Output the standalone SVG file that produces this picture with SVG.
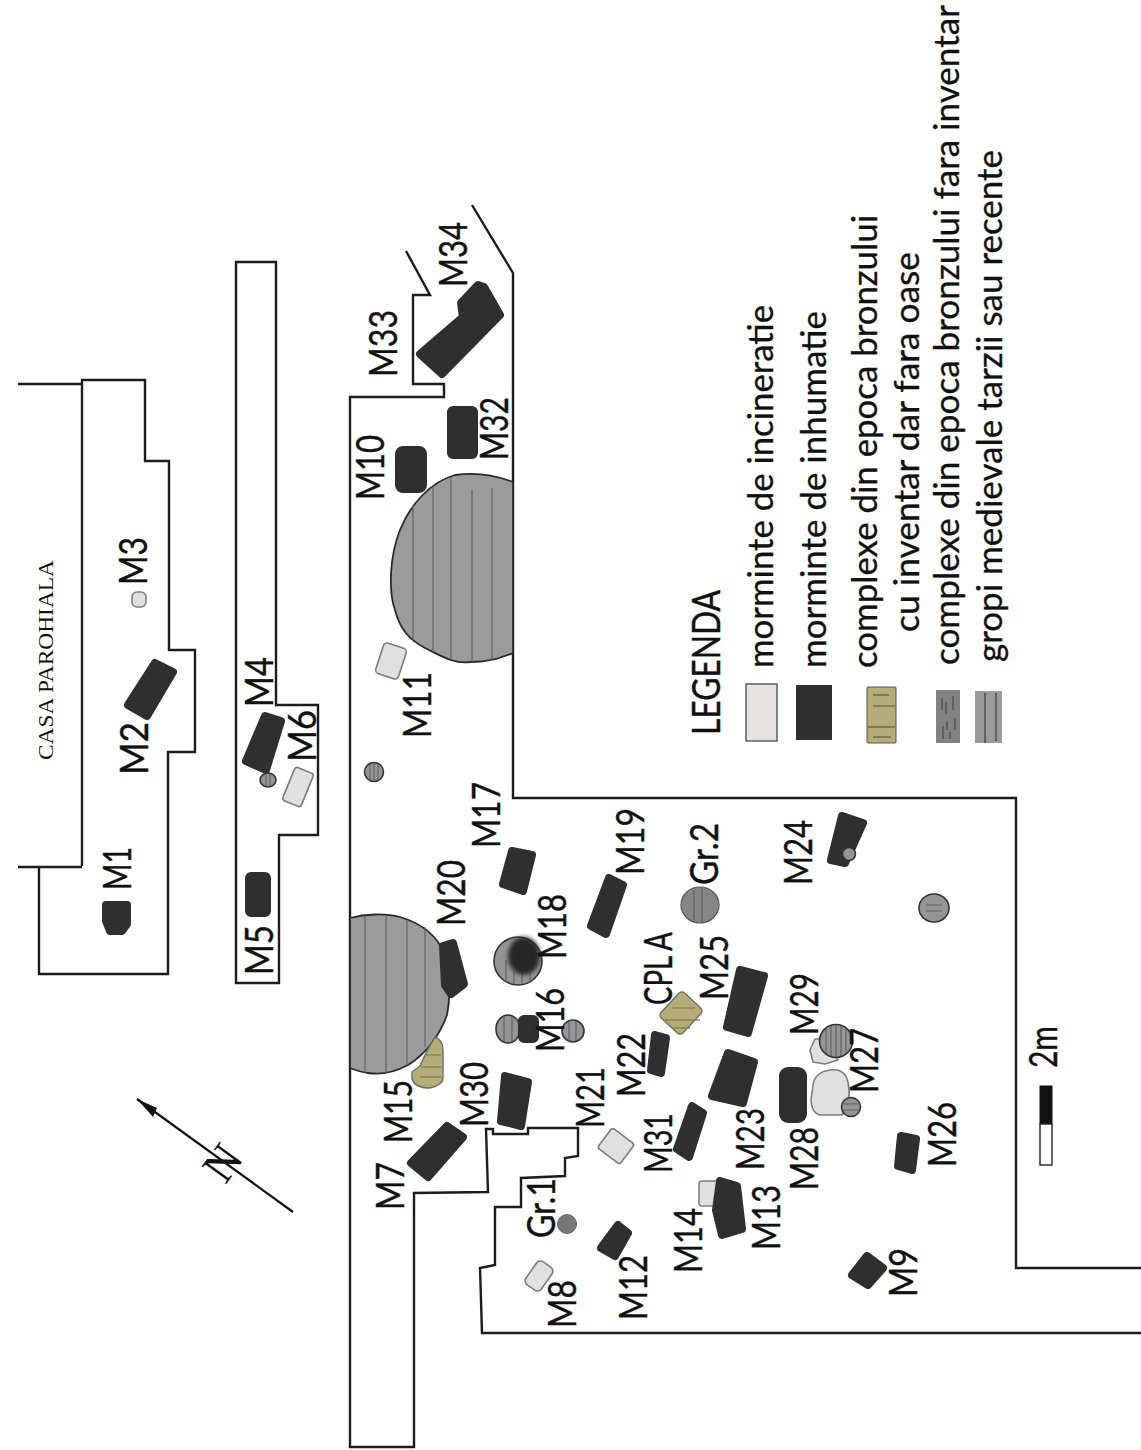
<svg xmlns="http://www.w3.org/2000/svg" width="1141" height="1450" viewBox="0 0 1141 1450">
<defs>
<style>
.o{fill:none;stroke:#1c1c1c;stroke-width:2.4}
.d{fill:#2f2f2f;stroke:#2f2f2f;stroke-width:8;stroke-linejoin:round}
.w{fill:#e2e0de;stroke:#7d7d7d;stroke-width:1.6;stroke-linejoin:round}
.k{fill:#b5ad78;stroke:#6f6f60;stroke-width:1.4;stroke-linejoin:round}
.g{fill:#949597;stroke:#333;stroke-width:1.6}
.p{fill:#9a9b9d;stroke:#2a2a2a;stroke-width:1.8}
.s{stroke:#5e5f61;stroke-width:1.1;fill:none}
.ks{stroke:#8a8458;stroke-width:1.3;fill:none}
text{fill:#111;font-family:Lato,"Liberation Sans",sans-serif}
.l{font-size:38px;stroke:#111;stroke-width:.4}
.t{font-size:34px;stroke:#111;stroke-width:.3}
</style>
<filter id="b" x="-30%" y="-30%" width="160%" height="160%"><feGaussianBlur stdDeviation="2"/></filter>
</defs>
<rect width="1141" height="1450" fill="#fff"/>

<g id="trench-outlines">
<path class="o" d="M18,384H82M82,866V380H145V461H169V650H195V752H168V974H39V867M18,867H82"/>
<path class="o" d="M236,262H276V705H318V835H279V983H236Z"/>
<path class="o" d="M406,251L430,295H413V384H444V397H350V1447H414V1193L488,1192L486,1129H493V1134H528V1128H578V1156L565,1158V1176L521,1178V1207H495V1265L480,1268L482,1333H1141M472,205L513,273V798H1016V1268H1141"/>
</g>

<g id="pits">
<path class="p" d="M513,482C495,475 475,472 455,475C430,482 410,505 400,530C390,555 388,590 395,610C400,630 410,640 425,648C445,658 455,664 470,662C490,662 500,658 513,653Z"/>
<path class="s" d="M413,505V640M433,485V652M451,478V660M472,490V662M492,488V660"/>
<path class="p" d="M350,918C365,914 385,913 400,917C420,923 432,932 440,945C448,965 452,990 447,1015C440,1035 425,1055 408,1065C395,1072 380,1075 368,1073C360,1072 355,1070 350,1068Z"/>
<path class="s" d="M365,916V1071M386,915V1073M407,920V1064M425,927V1047"/>
</g>

<g id="graves">
<g id="M1"><path class="d" d="M106,905H127V924L122,931H110L106,921Z"/></g>
<g id="M2"><path class="d" d="M155,663L173,672L147,716L128,705Z"/></g>
<g id="M3"><rect class="w" x="132" y="592" width="14" height="15" rx="5"/></g>
<g id="M4"><path class="d" d="M265,716L281,721L266,770L246,761Z"/><ellipse class="g" cx="268" cy="780" rx="8" ry="7"/><path class="s" d="M266,774V786M270,774V786"/></g>
<g id="M5"><rect class="d" x="249" y="876" width="18" height="37" rx="2"/></g>
<g id="M6"><rect class="w" x="288" y="769" width="20" height="36" rx="3" transform="rotate(22 298 787)"/></g>
<g id="M10"><rect class="d" x="399" y="450" width="24" height="39" rx="4"/></g>
<g id="M32"><rect class="d" x="451" y="410" width="23" height="45" rx="2"/></g>
<g id="M33-M34"><path class="d" d="M420,354L463,317L461,303L478,285L484,287L500,315L442,374Z"/></g>
<g id="M11"><rect class="w" x="379" y="645" width="24" height="32" rx="4" transform="rotate(18 391 661)"/></g>
<g id="pit-a"><circle class="g" cx="374" cy="772" r="9.5"/><path class="s" d="M370,764V780M374,763V781M378,764V780"/></g>
<g id="M17"><path class="d" d="M512,851L532,855L523,891L503,884Z"/></g>
<g id="M19"><path class="d" d="M609,878L623,885L606,934L591,926Z"/></g>
<g id="Gr2"><ellipse cx="700" cy="905" rx="19" ry="18" fill="#868686" stroke="#555" stroke-width="1.2"/><path class="s" d="M694,890V920M702,888V922"/></g>
<g id="M18"><circle class="g" cx="518" cy="961" r="24"/><path class="s" d="M506,960V982M514,970V984M522,972V984M530,972V982"/><ellipse cx="524" cy="956" rx="16" ry="19" fill="#252525" filter="url(#b)"/></g>
<g id="M20"><path class="d" d="M443,946L453,943L464,984L451,994L445,985Z"/></g>
<g id="M16"><ellipse class="g" cx="508" cy="1029" rx="12" ry="14"/><path class="s" d="M504,1016V1042M512,1016V1042"/><rect class="d" x="522" y="1019" width="13" height="20" rx="2"/><circle class="g" cx="573" cy="1031" r="11"/><path class="s" d="M569,1021V1041M576,1021V1041"/></g>
<g id="M15"><path class="k" d="M420,1066Q428,1048 435,1037Q443,1040 443,1050V1078Q443,1085 430,1088Q414,1088 412,1078V1072Z"/><path class="ks" d="M424,1055H441M421,1067H441M420,1077H441"/></g>
<g id="M30"><path class="d" d="M505,1076L528,1082L521,1126L501,1121Z"/></g>
<g id="M7"><path class="d" d="M447,1126L463,1137L428,1177L411,1163Z"/></g>
<g id="M21"><rect class="w" x="602" y="1133.500" width="28" height="25" rx="3" transform="rotate(37 616 1146)"/></g>
<g id="Gr1"><circle cx="567" cy="1224" r="9.500" fill="#777" stroke="#666" stroke-width="1"/></g>
<g id="M12"><path class="d" d="M618,1225L628,1233L615,1256L601,1248Z"/></g>
<g id="M8"><rect class="w" x="529.500" y="1262" width="19" height="28" rx="5" transform="rotate(35 539 1276)"/></g>
<g id="M9"><path class="d" d="M867,1256L883,1268L868,1285L852,1275Z"/></g>
<g id="M14"><rect class="w" x="699" y="1181" width="20" height="25" rx="3"/></g>
<g id="M13"><path class="d" d="M720,1181L737,1186L742,1229L722,1235L716,1210Z"/></g>
<g id="M25"><path class="d" d="M740,970L764,976L748,1033L727,1027Z"/></g>
<g id="CPL-A"><rect class="k" x="666" y="996" width="30" height="34" rx="4" transform="rotate(43 681 1013)"/><path class="ks" d="M672,1008H695M665,1020H700M674,1028H690"/></g>
<g id="M22"><path class="d" d="M655,1035L666,1038L661,1073L651,1070Z"/></g>
<g id="M23"><path class="d" d="M728,1053L754,1062L743,1103L712,1096Z"/></g>
<g id="M31"><path class="d" d="M692,1106L703,1113L689,1157L677,1149Z"/></g>
<g id="M28"><rect class="d" x="783" y="1071" width="20" height="48" rx="5"/></g>
<g id="M29"><path class="w" d="M815,1039H828L830,1050L838,1060L825,1064L813,1062L810,1050Z"/><circle class="g" cx="836" cy="1041" r="16.500"/><path class="s" d="M826,1028V1054M831,1026V1056M836,1025V1057M841,1026V1056M846,1028V1054"/></g>
<g id="M27"><path class="w" d="M813,1085Q815,1072 830,1070Q845,1068 848,1082Q852,1100 842,1115H822Q812,1115 811,1100Z"/><circle class="g" cx="851" cy="1107" r="9.500"/><path class="s" d="M842,1104H860M842,1110H860"/></g>
<g id="M26"><path class="d" d="M901,1136L916,1139L912,1170L898,1166Z"/></g>
<g id="M24"><path class="d" d="M842,816L863,823L845,863L831,860Z"/><circle class="g" cx="849" cy="854" r="6.500"/></g>
<g id="pit-b"><ellipse class="g" cx="934" cy="908" rx="15" ry="14"/><path class="s" d="M926,905H942M926,911H942"/></g>
</g>

<g id="north">
<path d="M137,1099L293,1212" stroke="#111" stroke-width="2.2" fill="none"/>
<path d="M137,1099L157,1108L153,1117Z" fill="#111"/>
<text transform="translate(223,1163) rotate(-54)" y="15" text-anchor="middle" font-size="46" style="font-family:'Liberation Serif',serif">N</text>
</g>

<g id="labels">
<text class="l" transform="translate(131,890) rotate(-90)" textLength="43" lengthAdjust="spacingAndGlyphs">M1</text>
<text class="l" transform="translate(148,775) rotate(-90)" textLength="53" lengthAdjust="spacingAndGlyphs">M2</text>
<text class="l" transform="translate(147,585) rotate(-90)" textLength="48" lengthAdjust="spacingAndGlyphs">M3</text>
<text class="l" transform="translate(273,707) rotate(-90)" textLength="50" lengthAdjust="spacingAndGlyphs">M4</text>
<text class="l" transform="translate(273,975) rotate(-90)" textLength="50" lengthAdjust="spacingAndGlyphs">M5</text>
<text class="l" transform="translate(316,762) rotate(-90)" textLength="52" lengthAdjust="spacingAndGlyphs">M6</text>
<text class="l" transform="translate(404,1210) rotate(-90)" textLength="48" lengthAdjust="spacingAndGlyphs">M7</text>
<text class="l" transform="translate(576,1328) rotate(-90)" textLength="48" lengthAdjust="spacingAndGlyphs">M8</text>
<text class="l" transform="translate(917,1297) rotate(-90)" textLength="49" lengthAdjust="spacingAndGlyphs">M9</text>
<text class="l" transform="translate(384,500) rotate(-90)" textLength="65" lengthAdjust="spacingAndGlyphs">M10</text>
<text class="l" transform="translate(431,738) rotate(-90)" textLength="66" lengthAdjust="spacingAndGlyphs">M11</text>
<text class="l" transform="translate(647,1320) rotate(-90)" textLength="65" lengthAdjust="spacingAndGlyphs">M12</text>
<text class="l" transform="translate(780,1250) rotate(-90)" textLength="65" lengthAdjust="spacingAndGlyphs">M13</text>
<text class="l" transform="translate(702,1273) rotate(-90)" textLength="65" lengthAdjust="spacingAndGlyphs">M14</text>
<text class="l" transform="translate(412,1143) rotate(-90)" textLength="63" lengthAdjust="spacingAndGlyphs">M15</text>
<text class="l" transform="translate(564,1052) rotate(-90)" textLength="64" lengthAdjust="spacingAndGlyphs">M16</text>
<text class="l" transform="translate(500,848) rotate(-90)" textLength="66" lengthAdjust="spacingAndGlyphs">M17</text>
<text class="l" transform="translate(566,959) rotate(-90)" textLength="65" lengthAdjust="spacingAndGlyphs">M18</text>
<text class="l" transform="translate(644,875) rotate(-90)" textLength="67" lengthAdjust="spacingAndGlyphs">M19</text>
<text class="l" transform="translate(465,926) rotate(-90)" textLength="66" lengthAdjust="spacingAndGlyphs">M20</text>
<text class="l" transform="translate(604,1128) rotate(-90)" textLength="61" lengthAdjust="spacingAndGlyphs">M21</text>
<text class="l" transform="translate(645,1097) rotate(-90)" textLength="64" lengthAdjust="spacingAndGlyphs">M22</text>
<text class="l" transform="translate(764,1170) rotate(-90)" textLength="62" lengthAdjust="spacingAndGlyphs">M23</text>
<text class="l" transform="translate(812,885) rotate(-90)" textLength="65" lengthAdjust="spacingAndGlyphs">M24</text>
<text class="l" transform="translate(728,1000) rotate(-90)" textLength="65" lengthAdjust="spacingAndGlyphs">M25</text>
<text class="l" transform="translate(956,1167) rotate(-90)" textLength="65" lengthAdjust="spacingAndGlyphs">M26</text>
<text class="l" transform="translate(878,1093) rotate(-90)" textLength="65" lengthAdjust="spacingAndGlyphs">M27</text>
<text class="l" transform="translate(818,1190) rotate(-90)" textLength="63" lengthAdjust="spacingAndGlyphs">M28</text>
<text class="l" transform="translate(818,1035) rotate(-90)" textLength="62" lengthAdjust="spacingAndGlyphs">M29</text>
<text class="l" transform="translate(488,1127) rotate(-90)" textLength="65" lengthAdjust="spacingAndGlyphs">M30</text>
<text class="l" transform="translate(672,1173) rotate(-90)" textLength="60" lengthAdjust="spacingAndGlyphs">M31</text>
<text class="l" transform="translate(508,460) rotate(-90)" textLength="63" lengthAdjust="spacingAndGlyphs">M32</text>
<text class="l" transform="translate(397,377) rotate(-90)" textLength="67" lengthAdjust="spacingAndGlyphs">M33</text>
<text class="l" transform="translate(467,287) rotate(-90)" textLength="65" lengthAdjust="spacingAndGlyphs">M34</text>
<text class="l" transform="translate(555,1238) rotate(-90)" textLength="60" lengthAdjust="spacingAndGlyphs">Gr.1</text>
<text class="l" transform="translate(718,885) rotate(-90)" textLength="62" lengthAdjust="spacingAndGlyphs">Gr.2</text>
<text class="l" transform="translate(672,1005) rotate(-90)" textLength="73" lengthAdjust="spacingAndGlyphs">CPL A</text>
<text transform="translate(53,760) rotate(-90)" textLength="200" lengthAdjust="spacingAndGlyphs" font-size="22" style="font-family:'Liberation Serif',serif">CASA  PAROHIALA</text>
</g>

<g id="legend">
<text class="l" transform="translate(720,735) rotate(-90)" textLength="145" lengthAdjust="spacingAndGlyphs">LEGENDA</text>
<text class="t" transform="translate(773,668) rotate(-90)" textLength="363" lengthAdjust="spacingAndGlyphs">morminte de incineratie</text>
<text class="t" transform="translate(826,668) rotate(-90)" textLength="357" lengthAdjust="spacingAndGlyphs">morminte de inhumatie</text>
<text class="t" transform="translate(877,668) rotate(-90)" textLength="453" lengthAdjust="spacingAndGlyphs">complexe din epoca bronzului</text>
<text class="t" transform="translate(919,632) rotate(-90)" textLength="380" lengthAdjust="spacingAndGlyphs">cu inventar dar fara oase</text>
<text class="t" transform="translate(959,665) rotate(-90)" textLength="660" lengthAdjust="spacingAndGlyphs">complexe din epoca bronzului fara inventar</text>
<text class="t" transform="translate(1002,662) rotate(-90)" textLength="512" lengthAdjust="spacingAndGlyphs">gropi medievale tarzii sau recente</text>
<rect x="746" y="684" width="31" height="57" fill="#e6e3e0" stroke="#555" stroke-width="1.4"/>
<rect x="796" y="685" width="36" height="55" fill="#2f2f2f"/>
<rect x="867" y="687" width="29" height="56" rx="1" fill="#b5ad78" stroke="#555" stroke-width="1"/>
<path class="ks" style="stroke:#6e6a4c" d="M873,695H889M873,706H895M868,727H895M873,737H891"/>
<rect x="936" y="690" width="24" height="53" fill="#828282"/>
<path d="M942,698V710M946,702V714M953,696V710M955,718V730M947,721V730M943,726V739M950,732V739" stroke="#4c4c4c" stroke-width="1.2" fill="none"/>
<rect x="975" y="691" width="27" height="52" fill="#999a9c"/>
<path d="M985,693V743M996,693V741" stroke="#444" stroke-width="1.3" fill="none"/>
</g>

<g id="scale">
<rect x="1040" y="1086" width="12" height="38" fill="#111" stroke="#111"/>
<rect x="1040" y="1124" width="12" height="41" fill="#fff" stroke="#222" stroke-width="1.4"/>
<text class="l" transform="translate(1057,1068) rotate(-90)" textLength="42" lengthAdjust="spacingAndGlyphs">2m</text>
</g>
</svg>
